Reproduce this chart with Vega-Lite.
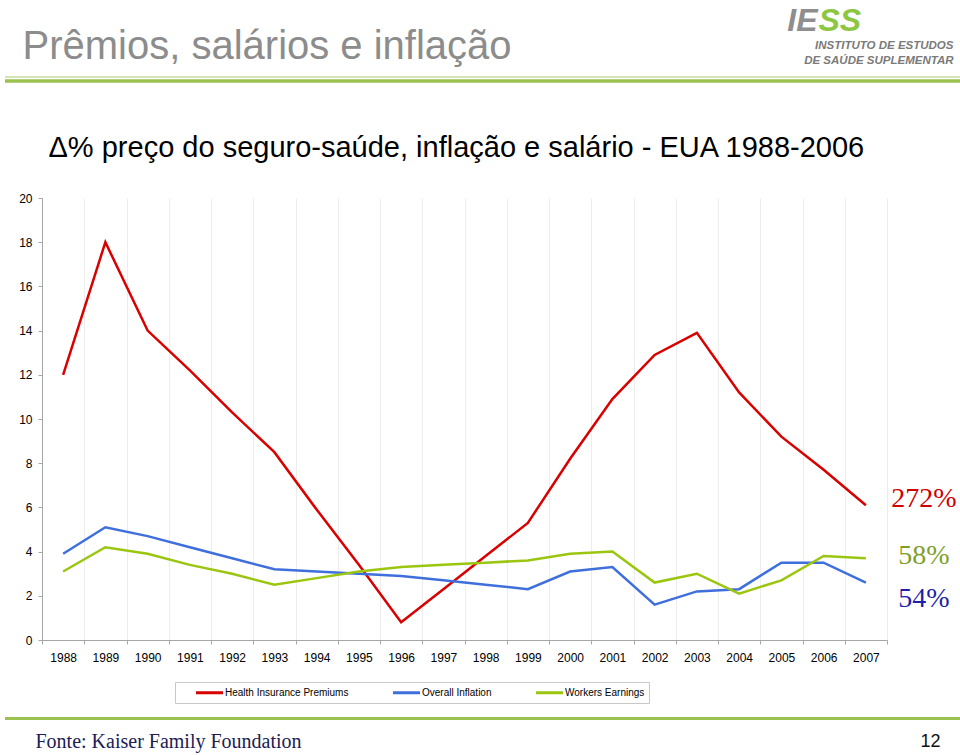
{
  "$schema": "https://vega.github.io/schema/vega-lite/v6.json",
  "width": 955,
  "height": 442,
  "autosize": {"type": "none"},
  "padding": {"left": 5, "top": 198, "right": 0, "bottom": 115},
  "background": "white",
  "config": {
    "view": {"stroke": null},
    "font": "Liberation Sans",
    "axis": {"labelFont": "Liberation Sans", "titleFont": "Liberation Sans"}
  },
  "datasets": {
    "series": [
      {"year": "1988", "series": "Health Insurance Premiums", "value": 12.0},
      {"year": "1989", "series": "Health Insurance Premiums", "value": 18.0},
      {"year": "1990", "series": "Health Insurance Premiums", "value": 14.0},
      {"year": "1991", "series": "Health Insurance Premiums", "value": 12.2},
      {"year": "1992", "series": "Health Insurance Premiums", "value": 10.3},
      {"year": "1993", "series": "Health Insurance Premiums", "value": 8.5},
      {"year": "1994", "series": "Health Insurance Premiums", "value": 5.9},
      {"year": "1995", "series": "Health Insurance Premiums", "value": 3.4},
      {"year": "1996", "series": "Health Insurance Premiums", "value": 0.8},
      {"year": "1997", "series": "Health Insurance Premiums", "value": 2.3},
      {"year": "1998", "series": "Health Insurance Premiums", "value": 3.8},
      {"year": "1999", "series": "Health Insurance Premiums", "value": 5.3},
      {"year": "2000", "series": "Health Insurance Premiums", "value": 8.2},
      {"year": "2001", "series": "Health Insurance Premiums", "value": 10.9},
      {"year": "2002", "series": "Health Insurance Premiums", "value": 12.9},
      {"year": "2003", "series": "Health Insurance Premiums", "value": 13.9},
      {"year": "2004", "series": "Health Insurance Premiums", "value": 11.2},
      {"year": "2005", "series": "Health Insurance Premiums", "value": 9.2},
      {"year": "2006", "series": "Health Insurance Premiums", "value": 7.7},
      {"year": "2007", "series": "Health Insurance Premiums", "value": 6.1},
      {"year": "1988", "series": "Overall Inflation", "value": 3.9},
      {"year": "1989", "series": "Overall Inflation", "value": 5.1},
      {"year": "1990", "series": "Overall Inflation", "value": 4.7},
      {"year": "1991", "series": "Overall Inflation", "value": 4.2},
      {"year": "1992", "series": "Overall Inflation", "value": 3.7},
      {"year": "1993", "series": "Overall Inflation", "value": 3.2},
      {"year": "1994", "series": "Overall Inflation", "value": 3.1},
      {"year": "1995", "series": "Overall Inflation", "value": 3.0},
      {"year": "1996", "series": "Overall Inflation", "value": 2.9},
      {"year": "1997", "series": "Overall Inflation", "value": 2.7},
      {"year": "1998", "series": "Overall Inflation", "value": 2.5},
      {"year": "1999", "series": "Overall Inflation", "value": 2.3},
      {"year": "2000", "series": "Overall Inflation", "value": 3.1},
      {"year": "2001", "series": "Overall Inflation", "value": 3.3},
      {"year": "2002", "series": "Overall Inflation", "value": 1.6},
      {"year": "2003", "series": "Overall Inflation", "value": 2.2},
      {"year": "2004", "series": "Overall Inflation", "value": 2.3},
      {"year": "2005", "series": "Overall Inflation", "value": 3.5},
      {"year": "2006", "series": "Overall Inflation", "value": 3.5},
      {"year": "2007", "series": "Overall Inflation", "value": 2.6},
      {"year": "1988", "series": "Workers Earnings", "value": 3.1},
      {"year": "1989", "series": "Workers Earnings", "value": 4.2},
      {"year": "1990", "series": "Workers Earnings", "value": 3.9},
      {"year": "1991", "series": "Workers Earnings", "value": 3.4},
      {"year": "1992", "series": "Workers Earnings", "value": 3.0},
      {"year": "1993", "series": "Workers Earnings", "value": 2.5},
      {"year": "1994", "series": "Workers Earnings", "value": 2.8},
      {"year": "1995", "series": "Workers Earnings", "value": 3.1},
      {"year": "1996", "series": "Workers Earnings", "value": 3.3},
      {"year": "1997", "series": "Workers Earnings", "value": 3.4},
      {"year": "1998", "series": "Workers Earnings", "value": 3.5},
      {"year": "1999", "series": "Workers Earnings", "value": 3.6},
      {"year": "2000", "series": "Workers Earnings", "value": 3.9},
      {"year": "2001", "series": "Workers Earnings", "value": 4.0},
      {"year": "2002", "series": "Workers Earnings", "value": 2.6},
      {"year": "2003", "series": "Workers Earnings", "value": 3.0},
      {"year": "2004", "series": "Workers Earnings", "value": 2.1},
      {"year": "2005", "series": "Workers Earnings", "value": 2.7},
      {"year": "2006", "series": "Workers Earnings", "value": 3.8},
      {"year": "2007", "series": "Workers Earnings", "value": 3.7}
    ],
    "labels": [
      {"year": "2007", "series": "Health Insurance Premiums", "label": "272%", "pos": 6.02},
      {"year": "2007", "series": "Workers Earnings", "label": "58%", "pos": 3.43},
      {"year": "2007", "series": "Overall Inflation", "label": "54%", "pos": 1.49}
    ]
  },
  "layer": [
    {
      "data": {"name": "series"},
      "mark": {"type": "line", "strokeWidth": 2.5},
      "encoding": {
        "x": {
          "field": "year", "type": "ordinal", "bandPosition": 0.5,
          "scale": {"type": "band", "domain": ["1988","1989","1990","1991","1992","1993","1994","1995","1996","1997","1998","1999","2000","2001","2002","2003","2004","2005","2006","2007"], "range": [37, 882], "paddingInner": 0, "paddingOuter": 0},
          "axis": {
            "orient": "bottom", "labelAngle": 0, "labelFontSize": 12, "labelColor": "#000000", "labelPadding": 8,
            "tickSize": 4, "tickColor": "#a6a6a6", "domainColor": "#a6a6a6", "tickBand": "extent",
            "grid": true, "gridColor": "#ededed",
            "title": "Fonte: Kaiser Family Foundation", "titleFont": "Liberation Serif", "titleFontSize": 20,
            "titleFontWeight": "normal", "titleColor": "#1b1b55", "titleX": 30, "titleY": 107,
            "titleAlign": "left", "titleBaseline": "alphabetic"
          }
        },
        "y": {
          "field": "value", "type": "quantitative",
          "scale": {"domain": [0, 20], "nice": false},
          "axis": {
            "orient": "left", "offset": -37, "values": [0,2,4,6,8,10,12,14,16,18,20],
            "labelFontSize": 12, "labelColor": "#000000", "labelPadding": 6,
            "tickSize": 4, "tickColor": "#a6a6a6", "domainColor": "#a6a6a6", "grid": false,
            "title": "Prêmios, salários e inflação", "titleFontSize": 40, "titleFontWeight": "normal",
            "titleColor": "#8c8c8c", "titleAngle": 0, "titleX": -20, "titleY": -139.5,
            "titleAlign": "left", "titleBaseline": "alphabetic"
          }
        },
        "color": {
          "field": "series", "type": "nominal",
          "scale": {"domain": ["Health Insurance Premiums", "Overall Inflation", "Workers Earnings"], "range": ["#d90000", "#3f6fdc", "#9bc60f"]},
          "legend": {
            "orient": "none", "legendX": 170, "legendY": 484, "direction": "horizontal", "title": null,
            "symbolType": "M-2.7,0H2.7", "symbolSize": 100, "symbolStrokeWidth": 3,
            "labelFontSize": 10, "labelFont": "Liberation Sans", "labelColor": "#000000",
            "padding": 4, "strokeColor": "#c8c8c8", "fillColor": "#ffffff",
            "symbolOffset": 24, "labelOffset": 9, "columnPadding": 27
          }
        }
      }
    },
    {
      "data": {"name": "labels"},
      "mark": {"type": "text", "font": "Liberation Serif", "fontSize": 28, "align": "center", "baseline": "alphabetic", "dx": 58},
      "encoding": {
        "x": {
          "field": "year", "type": "ordinal", "bandPosition": 0.5,
          "scale": {"type": "band", "domain": ["1988","1989","1990","1991","1992","1993","1994","1995","1996","1997","1998","1999","2000","2001","2002","2003","2004","2005","2006","2007"], "range": [37, 882], "paddingInner": 0, "paddingOuter": 0},
          "axis": {
            "orient": "top", "domain": false, "ticks": false, "labels": false, "grid": false,
            "title": "Δ% preço do seguro-saúde, inflação e salário - EUA 1988-2006",
            "titleFontSize": 29, "titleFontWeight": "normal", "titleColor": "#000000",
            "titleX": 43, "titleY": -42, "titleAlign": "left", "titleBaseline": "alphabetic"
          }
        },
        "y": {
          "field": "pos", "type": "quantitative",
          "scale": {"domain": [0, 20], "nice": false},
          "axis": {
            "orient": "right", "domain": false, "ticks": false, "labels": false, "grid": false,
            "title": "12", "titleFontSize": 18, "titleFontWeight": "normal", "titleColor": "#111111",
            "titleAngle": 0, "titleX": -20, "titleY": 548, "titleAlign": "right", "titleBaseline": "alphabetic"
          }
        },
        "text": {"field": "label"},
        "color": {
          "field": "series", "type": "nominal",
          "scale": {"domain": ["Health Insurance Premiums", "Workers Earnings", "Overall Inflation"], "range": ["#d00000", "#7f9f2a", "#1f1fa8"]},
          "legend": null
        }
      }
    },
    {
      "data": {"values": [{}]},
      "mark": {"type": "rule", "color": "#c6dc9c", "strokeWidth": 1.5},
      "encoding": {
        "y": {
          "datum": 25.47, "type": "quantitative",
          "scale": {"domain": [0, 20], "nice": false},
          "axis": {
            "orient": "left", "domain": false, "ticks": false, "labels": false, "grid": false,
            "title": "IE", "titleFontSize": 32, "titleFontWeight": "bold", "titleFontStyle": "italic",
            "titleColor": "#8e8e8e", "titleAngle": 0, "titleX": 812, "titleY": -168,
            "titleAlign": "right", "titleBaseline": "alphabetic"
          }
        }
      }
    },
    {
      "data": {"values": [{}]},
      "mark": {"type": "rule", "color": "#9bc14f", "strokeWidth": 3.5},
      "encoding": {
        "y": {
          "datum": 25.29, "type": "quantitative",
          "scale": {"domain": [0, 20], "nice": false},
          "axis": {
            "orient": "right", "domain": false, "ticks": false, "labels": false, "grid": false,
            "title": "SS", "titleFontSize": 32, "titleFontWeight": "bold", "titleFontStyle": "italic",
            "titleColor": "#8dc63f", "titleAngle": 0, "titleX": -142, "titleY": -168,
            "titleAlign": "left", "titleBaseline": "alphabetic"
          }
        }
      }
    },
    {
      "data": {"values": [{}]},
      "mark": {"type": "rule", "color": "#9bc14f", "strokeWidth": 3},
      "encoding": {
        "y": {
          "datum": -3.55, "type": "quantitative",
          "scale": {"domain": [0, 20], "nice": false},
          "axis": {
            "orient": "right", "domain": false, "ticks": false, "labels": false, "grid": false,
            "title": ["INSTITUTO DE ESTUDOS", "DE SAÚDE SUPLEMENTAR"], "titleFontSize": 11.5,
            "titleFontWeight": "bold", "titleFontStyle": "italic", "titleColor": "#7a7a7a",
            "titleLineHeight": 15, "titleAngle": 0, "titleX": -7, "titleY": -150,
            "titleAlign": "right", "titleBaseline": "alphabetic"
          }
        }
      }
    }
  ],
  "resolve": {
    "scale": {"x": "independent", "y": "independent", "color": "independent"},
    "axis": {"x": "independent", "y": "independent"}
  }
}
